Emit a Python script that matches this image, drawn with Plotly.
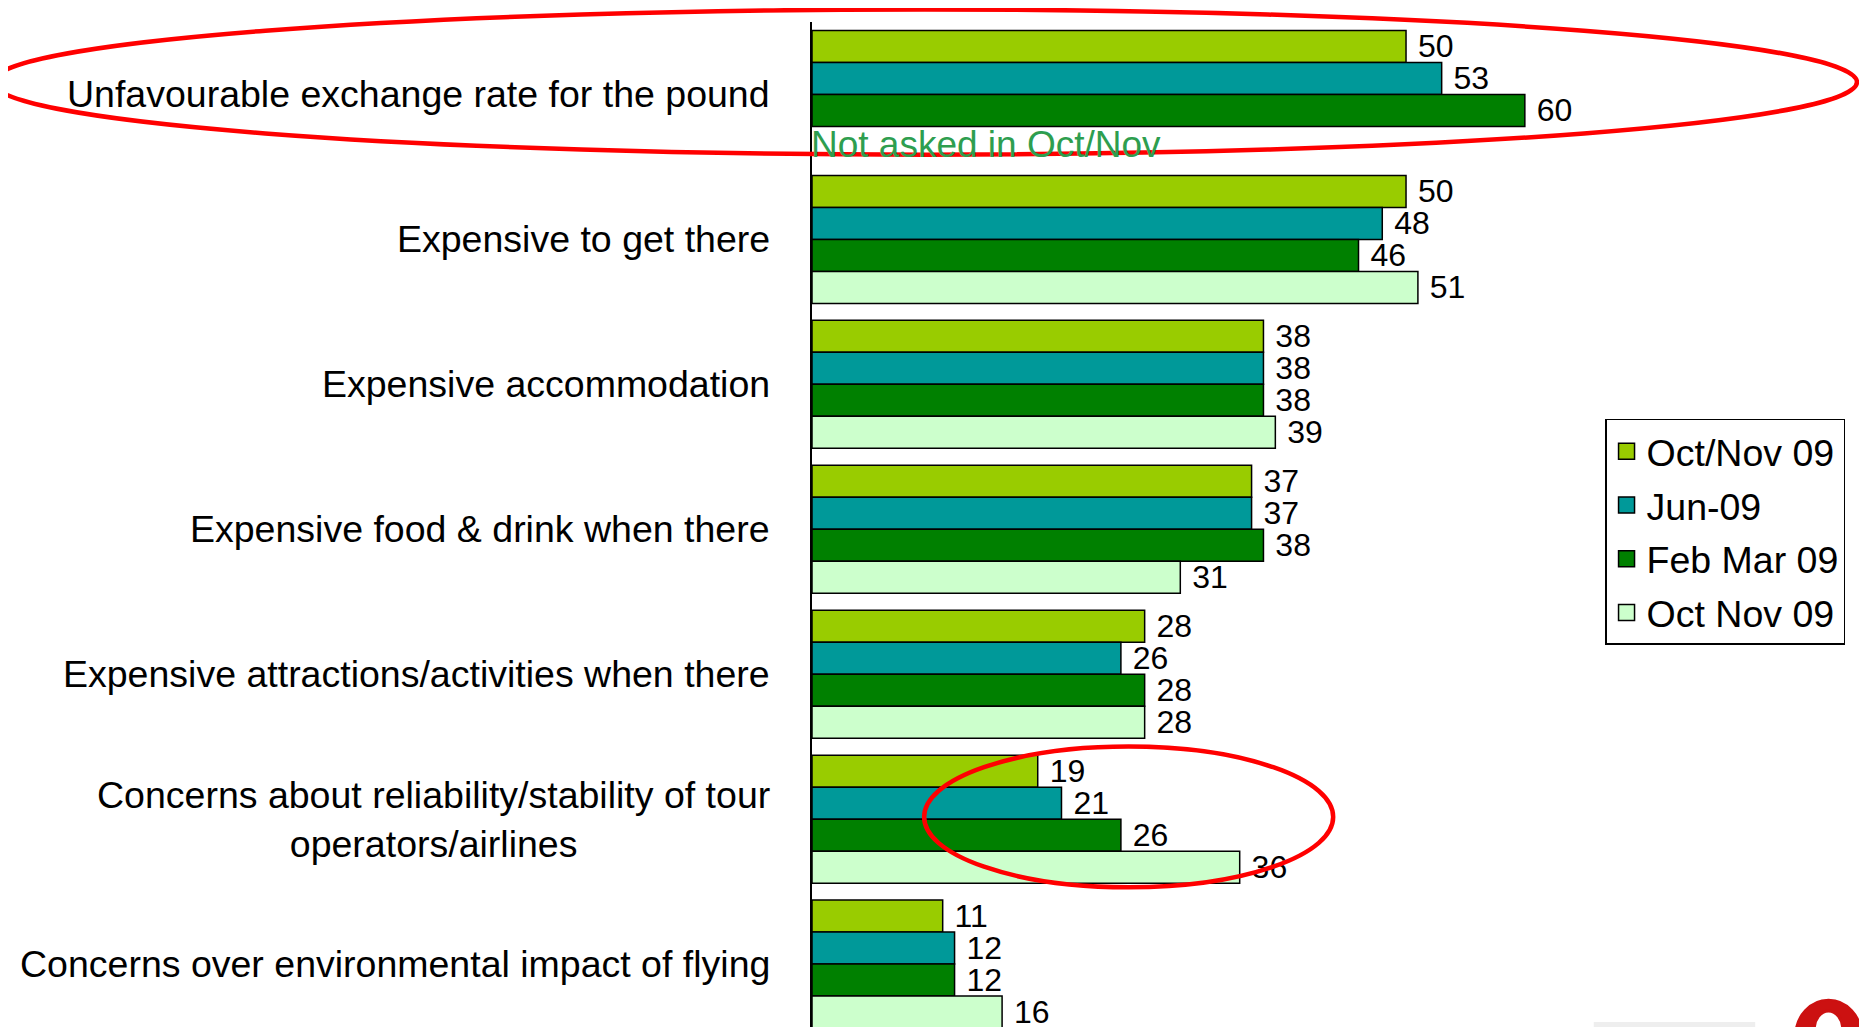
import plotly.graph_objects as go

# survey categories, top to bottom
categories = [
    "Unfavourable exchange rate for the pound",
    "Expensive to get there",
    "Expensive accommodation",
    "Expensive food & drink when there",
    "Expensive attractions/activities when there",
    "Concerns about reliability/stability of tour<br>operators/airlines",
    "Concerns over environmental impact of flying",
]

series_names = ["Oct/Nov 09", "Jun-09", "Feb Mar 09", "Oct Nov 09"]
oct_nov_09 = [50, 50, 38, 37, 28, 19, 11]
jun_09 = [53, 48, 38, 37, 26, 21, 12]
feb_mar_09 = [60, 46, 38, 38, 28, 26, 12]
oct_nov_09_b = [None, 51, 39, 31, 28, 36, 16]  # first question not asked

colors = ["#99CC00", "#009999", "#008000", "#CCFFCC"]
all_values = [oct_nov_09, jun_09, feb_mar_09, oct_nov_09_b]

fig = go.Figure()
for name, vals, col in zip(series_names, all_values, colors):
    fig.add_trace(go.Bar(
        y=categories, x=vals, name=name, orientation="h", showlegend=False,
        marker=dict(color=col, line=dict(color="black", width=1.5)),
        text=[("" if v is None else " %d" % v) for v in vals],
        textposition="outside", constraintext="none", cliponaxis=False,
        textfont=dict(size=32, color="black"),
    ))
    # legend entry with a bigger square swatch
    fig.add_trace(go.Scatter(
        x=[None], y=[None], mode="markers", name=name, legendgroup=name,
        marker=dict(symbol="square", size=16, color=col,
                    line=dict(color="black", width=1.5)),
    ))

# category labels, right aligned against the axis
for c in categories:
    fig.add_annotation(x=0, y=c, xref="x", yref="y", text=c, showarrow=False,
                       xanchor="right", xshift=-40, align="center",
                       font=dict(size=37.5, color="black"))

fig.add_annotation(x=0, y=categories[0], xref="x", yref="y",
                   text="Not asked in Oct/Nov", showarrow=False,
                   xanchor="left", yshift=-50, xshift=-3,
                   font=dict(size=37, color="#2E9E4F"))

# red highlight ellipses
fig.add_shape(type="circle", xref="paper", yref="paper",
              x0=-0.777, x1=0.9905, y0=0.868, y1=1.0125,
              line=dict(color="#FF0000", width=4.5), layer="above")
fig.add_shape(type="circle", xref="paper", yref="paper",
              x0=0.1063, x1=0.494, y0=0.139, y1=0.279,
              line=dict(color="#FF0000", width=4.5), layer="above")

# bits of the slide footer (grey bar, logo)
fig.add_shape(type="rect", xref="paper", yref="paper",
              x0=0.741, x1=0.894, y0=-0.01, y1=0.005,
              fillcolor="#EEEEEE", line=dict(width=0), layer="above")
fig.add_shape(type="circle", xref="paper", yref="paper",
              x0=0.932, x1=0.995, y0=-0.045, y1=0.027,
              fillcolor="#CC1111", line=dict(color="#CC1111", width=2), layer="above")
fig.add_shape(type="circle", xref="paper", yref="paper",
              x0=0.950, x1=0.977, y0=-0.02, y1=0.016,
              fillcolor="white", line=dict(color="#CC1111", width=3), layer="above")

# the page body adds 8px on the top/left, so the figure is 8px smaller
fig.update_layout(
    width=1859, height=1019,
    margin=dict(l=804, r=0, t=14, b=0),
    barmode="group", bargap=0.117, bargroupgap=0,
    plot_bgcolor="white", paper_bgcolor="white",
    font=dict(family="Arial, Liberation Sans, sans-serif", color="black"),
    legend=dict(x=0.7517, y=0.605, xanchor="left", yanchor="top",
                bordercolor="black", borderwidth=1.5, traceorder="grouped",
                font=dict(size=37.5), tracegroupgap=2),
    xaxis=dict(range=[0, 88.8], visible=False),
    yaxis=dict(range=[6.434, -0.5], showticklabels=False, showgrid=False,
               showline=True, linecolor="black", linewidth=2, ticks=""),
)

fig.write_html("out.html")
